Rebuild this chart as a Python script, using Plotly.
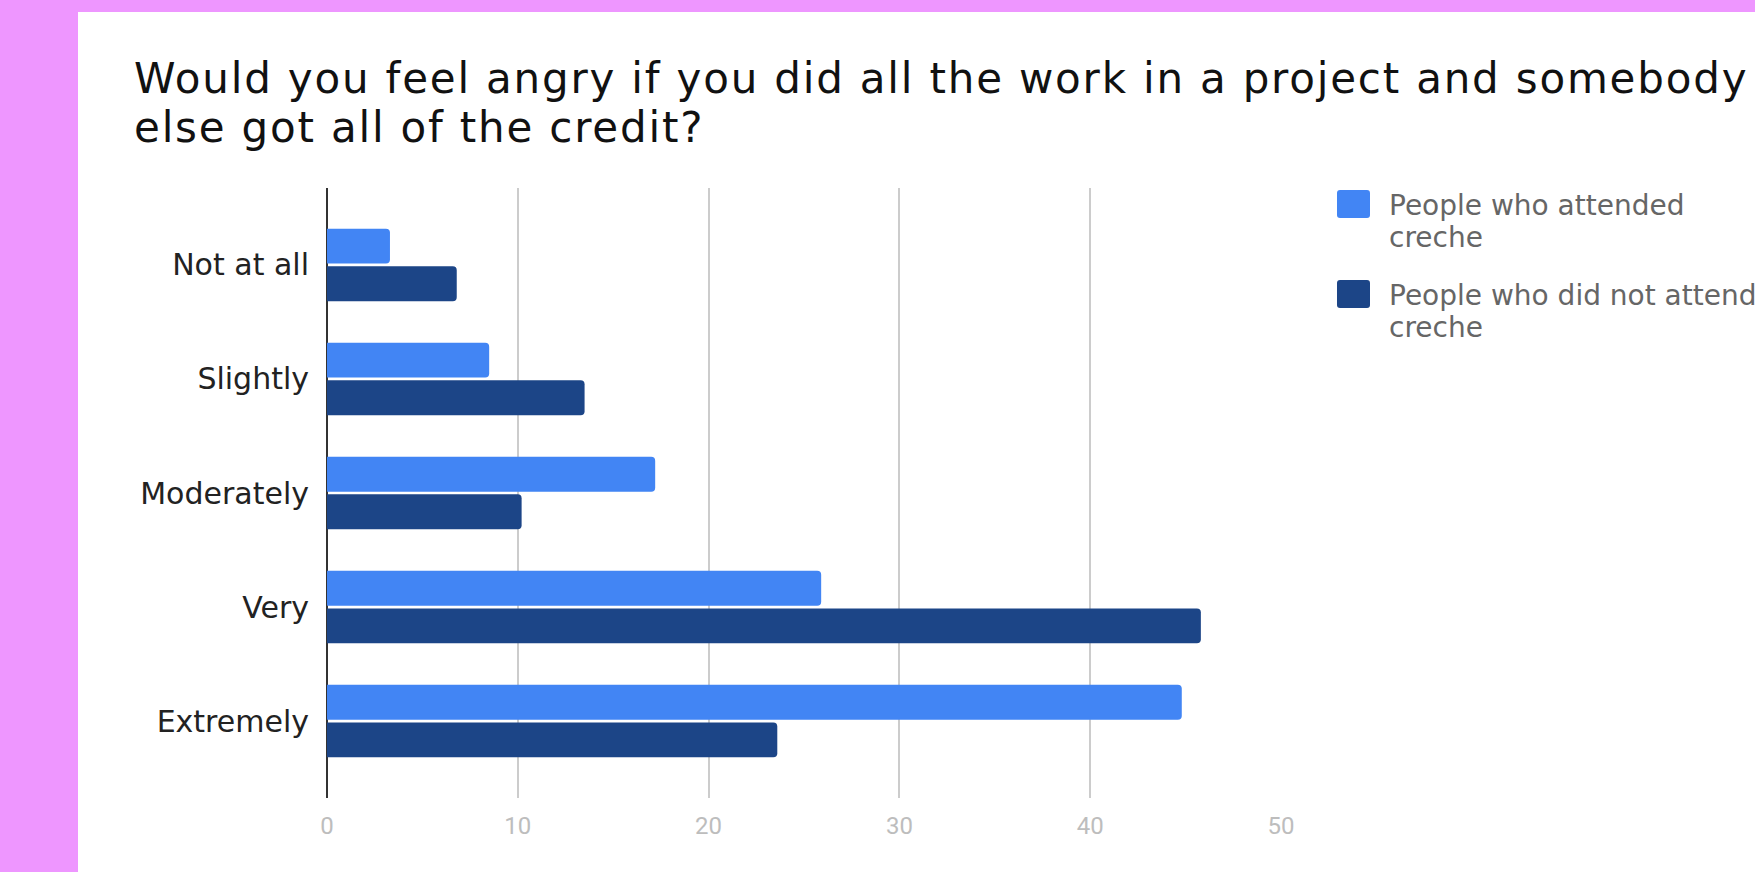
import plotly.graph_objects as go

# ---- data ----
categories = ["Not at all", "Slightly", "Moderately", "Very", "Extremely"]
attended = [3.3, 8.5, 17.2, 25.9, 44.8]
not_attended = [6.8, 13.5, 10.2, 45.8, 23.6]
series_names = ["People who attended<br>creche", "People who did not attend<br>creche"]
series_colors = ["#4285F4", "#1C4587"]
x_ticks = [0, 10, 20, 30, 40, 50]
title_lines = ["Would you feel angry if you did all the work in a project and somebody",
               "else got all of the credit?"]

W, H = 1755, 872
L, R, T, B = 327, 1281, 188, 798  # plot area in pixels
PW, PH = R - L, B - T


def px(xp):
    return (xp - L) / PW


def py(yp):
    return (B - yp) / PH


fig = go.Figure()
for vals, name, col in zip([attended, not_attended], series_names, series_colors):
    fig.add_trace(go.Bar(
        y=categories, x=vals, orientation="h", name=name.replace("<br>", " "),
        marker=dict(color=col, line=dict(width=0)), showlegend=False,
    ))

shapes = [
    dict(type="rect", xref="paper", yref="paper", x0=px(78), x1=px(W + 5),
         y0=py(H + 5), y1=py(12), fillcolor="white", line=dict(width=0), layer="below"),
]
annotations = []
title_size = 42
for i, ln in enumerate(title_lines):
    base = [93.5, 142.5][i]
    annotations.append(dict(
        xref="paper", yref="paper", x=px(132), y=py(base - 0.346 * title_size),
        xanchor="left", yanchor="middle",
        text=f'<span style="letter-spacing:1.8px">{ln}</span>', showarrow=False,
        font=dict(family="DejaVu Sans", size=title_size, color="#111111"),
    ))

# legend drawn manually
leg_tops = [190, 280]
for k, (name, col) in enumerate(zip(series_names, series_colors)):
    top = leg_tops[k]
    x0, x1 = 1337, 1370
    y0, y1 = top, top + 28
    r = 3
    pts = [("M", x0 + r, y0), ("L", x1 - r, y0), ("Q", x1, y0, x1, y0 + r), ("L", x1, y1 - r),
           ("Q", x1, y1, x1 - r, y1), ("L", x0 + r, y1), ("Q", x0, y1, x0, y1 - r),
           ("L", x0, y0 + r), ("Q", x0, y0, x0 + r, y0)]
    segs = []
    for seg in pts:
        cmd, coords = seg[0], seg[1:]
        pairs = [f"{px(coords[m]):.5f},{py(coords[m + 1]):.5f}" for m in range(0, len(coords), 2)]
        segs.append(cmd + " " + " ".join(pairs))
    shapes.append(dict(type="path", xref="paper", yref="paper", path=" ".join(segs) + " Z",
                       fillcolor=col, line=dict(width=0)))
    for li, ln in enumerate(name.split("<br>")):
        base = top + 25 + li * 32
        annotations.append(dict(
            xref="paper", yref="paper", x=px(1387), y=py(base - 9.8), xanchor="left", yanchor="middle",
            text=ln, showarrow=False, font=dict(family="DejaVu Sans", size=28, color="#666666"),
        ))

fig.update_layout(
    width=W, height=H,
    margin=dict(l=L, r=W - R, t=T, b=H - B, autoexpand=False),
    paper_bgcolor="#EE96FF",
    plot_bgcolor="white",
    barmode="group",
    bargap=0.339,
    bargroupgap=0.072,
    barcornerradius=4,
    showlegend=False,
    shapes=shapes,
    annotations=annotations,
    xaxis=dict(
        range=[0, 50], tickvals=x_ticks, ticktext=[str(v) for v in x_ticks],
        showgrid=True, gridcolor="#cccccc", gridwidth=2,
        zeroline=True, zerolinecolor="#333333", zerolinewidth=2,
        showline=False, ticks="", ticklabelstandoff=11,
        tickfont=dict(family="Roboto", size=24, color="#bdbdbd"),
        fixedrange=True,
    ),
    yaxis=dict(
        categoryorder="array", categoryarray=categories,
        range=[4.675, -0.675], showgrid=False, zeroline=False, showline=False,
        ticks="", ticklabelstandoff=17,
        tickfont=dict(family="DejaVu Sans", size=30, color="#222222"),
        fixedrange=True,
    ),
)

fig.write_html("out.html", config={"displayModeBar": False},
               post_script="document.body.style.margin='0';document.body.style.overflow='hidden';")
